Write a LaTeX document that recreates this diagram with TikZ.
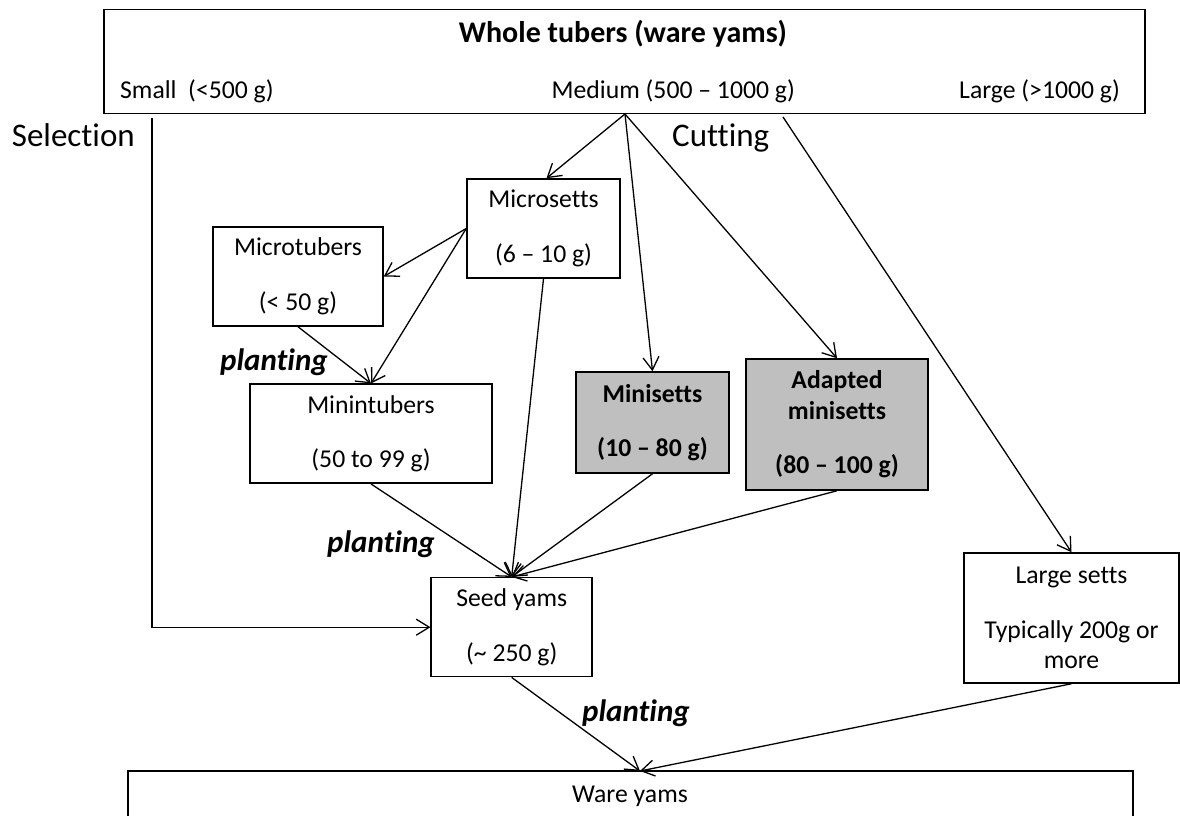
\documentclass[tikz,border=0pt]{standalone}
\usepackage{fontspec}
\setmainfont[Ligatures=CommonOff]{Carlito}
\usetikzlibrary{arrows.meta}
\definecolor{boxgray}{HTML}{BFBFBF}
\begin{document}
\begin{tikzpicture}[x=1pt,y=-1pt,
  box/.style={draw, line width=1.5pt, rectangle, inner sep=0pt, align=center, font=\fontsize{25.7}{30.5}\selectfont},
  graybox/.style={box, fill=boxgray, font=\bfseries\fontsize{25.7}{30.5}\selectfont},
  arr/.style={line width=1.3pt, -{Straight Barb[length=13pt,width=16pt]}},
  lbl/.style={inner sep=0pt, font=\fontsize{25.7}{30.5}\selectfont},
  biglbl/.style={inner sep=0pt, font=\fontsize{33}{40}\selectfont},
  plant/.style={inner sep=0pt, font=\bfseries\itshape\fontsize{31}{36}\selectfont}
]
\useasboundingbox (0,0) rectangle (1180,816);
\clip (0,0) rectangle (1180,816);

% top box
\node[box, minimum width=1041pt, minimum height=104pt] (top) at (624.5,61.3) {};
\node[inner sep=0pt, font=\bfseries\fontsize{30}{36}\selectfont, anchor=base] (title) at (623,43) {Whole tubers (ware yams)};
\node[lbl, anchor=base west] (small) at (120,99) {Small\ \ (<500 g)};
\node[lbl, anchor=base east] (medium) at (795,99) {Medium (500 -- 1000 g)};
\node[lbl, anchor=base east] (largelbl) at (1120,99) {Large (>1000 g)};

\node[biglbl, anchor=base west] (selection) at (11.7,146) {Selection};
\node[biglbl, anchor=base west] (cutting) at (672,146) {Cutting};

% boxes
\node[box, minimum width=153pt, minimum height=99pt] (micros) at (543.5,228.5) {Microsetts\\[24pt](6 -- 10 g)};
\node[box, minimum width=170pt, minimum height=99pt] (microt) at (298,276.5) {Microtubers\\[24pt](< 50 g)};
\node[box, minimum width=242pt, minimum height=99pt] (minit) at (371,433.7) {Minintubers\\[24pt](50 to 99 g)};
\node[graybox, minimum width=153pt, minimum height=101pt] (minis) at (652.5,422.5) {Minisetts\\[24pt](10 -- 80 g)};
\node[graybox, minimum width=182pt, minimum height=131pt] (adapt) at (837,424.5) {Adapted\\minisetts\\[24pt](80 -- 100 g)};
\node[box, minimum width=161pt, minimum height=99pt] (seed) at (511.7,627.2) {Seed yams\\[24pt](\textasciitilde{} 250 g)};
\node[box, minimum width=215pt, minimum height=130pt] (large) at (1071.5,618) {Large setts\\[24pt]Typically 200g or\\more};
\node[box, minimum width=1005pt, minimum height=100pt] (ware) at (630.5,821) {};
\node[lbl, anchor=base] (waretext) at (630,802) {Ware yams};

% planting labels
\node[plant, anchor=base west] (pl1) at (220,370) {planting};
\node[plant, anchor=base west] (pl2) at (327,552.7) {planting};
\node[plant, anchor=base west] (pl3) at (582,721.7) {planting};

% coordinates
\coordinate (medpt) at (625,114);
\coordinate (cutstart) at (783,117);
\coordinate (selstart) at (152,118);
\coordinate (waretop) at (640,771);

% connectors
\draw[arr] (medpt) -- ([xshift=3pt]micros.north);
\draw[arr] (medpt) -- (minis.north);
\draw[arr] (medpt) -- (adapt.north);
\draw[arr] (cutstart) -- (large.north);
\draw[arr] (selstart) |- (seed.west);
\draw[arr] (micros.west) -- (microt.east);
\draw[arr] (micros.west) -- (minit.north);
\draw[arr] (microt.south) -- (minit.north);
\draw[arr] (micros.south) -- (seed.north);
\draw[arr] (minit.south) -- (seed.north);
\draw[arr] (minis.south) -- (seed.north);
\draw[arr] (adapt.south) -- (seed.north);
\draw[arr] (seed.south) -- (waretop);
\draw[arr] (large.south) -- (waretop);
\end{tikzpicture}
\end{document}
